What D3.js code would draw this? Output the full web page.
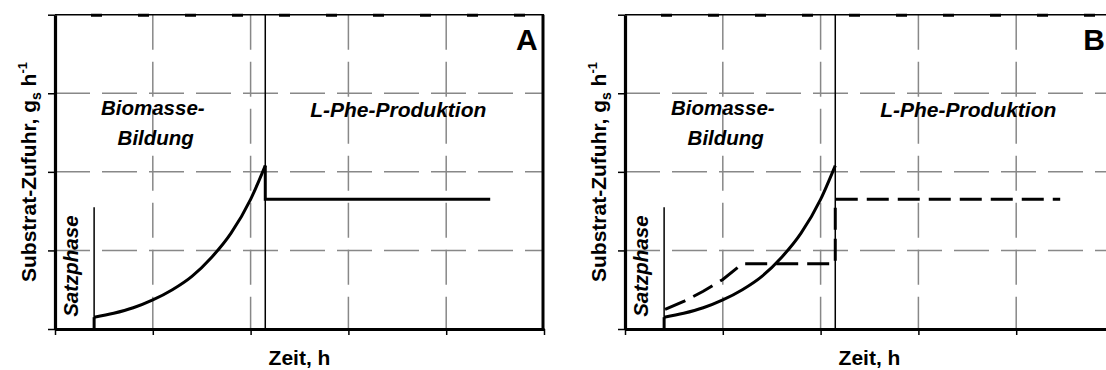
<!DOCTYPE html>
<html>
<head>
<meta charset="utf-8">
<script src="https://cdn.jsdelivr.net/npm/d3@7"></script>
<style>
  html, body { margin: 0; padding: 0; background: #fff; }
  svg { display: block; }
  text { font-family: "Liberation Sans", Arial, Helvetica, sans-serif; font-weight: bold; fill: #000; }
</style>
</head>
<body>
<svg id="chart" width="1106" height="370"></svg>
<script>
// Axis ticks (unitless, schematic axes)
const xTicks = [0, 1, 2, 3, 4, 5];
const yTicks = [0, 1, 2, 3, 4];

// Phase boundaries on the time axis
const batchEnd = 0.4;        // end of the batch phase (Satzphase)
const batchLabelTop = 1.55;  // height of the batch-phase marker line
const switchTime = 2.15;     // switch from biomass growth to L-Phe production

// Exponential feed during biomass growth (time, feed rate)
const growthTime = [0.40, 0.60, 0.80, 1.00, 1.20, 1.40, 1.60, 1.80, 2.00, 2.15];
const growthFeed = [0.15, 0.20, 0.27, 0.37, 0.50, 0.67, 0.91, 1.22, 1.65, 2.08];

// Constant feed during production
const productionFeed = 1.65;
const productionEnd = 4.45;

// Panel B: alternative (dashed) feed profile
const altTime = [0.41, 0.60, 0.80, 1.00, 1.20, 2.15, 2.15, 4.45];
const altFeed = [0.25, 0.35, 0.48, 0.63, 0.83, 0.83, 1.65, 1.65];

const svg = d3.select("#chart");
const svgW = +svg.attr("width");

const panels = [
  { key: "A", left: 55, tail: true, alt: false },
  { key: "B", left: 625, tail: false, alt: true }
];

const plotW = 489, plotTop = 14.7, plotBottom = 329;

panels.forEach(p => {
  const x = d3.scaleLinear().domain([0, 5]).range([p.left, p.left + plotW]);
  const y = d3.scaleLinear().domain([0, 4]).range([plotBottom, plotTop]);
  const g = svg.append("g");

  // dashed grey grid
  const dash = "35,12";
  g.selectAll("line.hgrid").data(yTicks.filter(v => v > 0 && v < 4)).join("line")
    .attr("x1", x(0)).attr("x2", x(5)).attr("y1", d => y(d)).attr("y2", d => y(d))
    .attr("stroke", "#888").attr("stroke-width", 1.5).attr("stroke-dasharray", dash);
  g.selectAll("line.vgrid").data(xTicks.filter(v => v > 0 && v < 5)).join("line")
    .attr("y1", y(4)).attr("y2", y(0)).attr("x1", d => x(d)).attr("x2", d => x(d))
    .attr("stroke", "#888").attr("stroke-width", 1.5).attr("stroke-dasharray", dash);

  // top frame: thin line with darker segments in the grid gaps
  g.append("line").attr("x1", x(0)).attr("x2", x(5)).attr("y1", y(4)).attr("y2", y(4))
    .attr("stroke", "#000").attr("stroke-width", 1.5);
  g.append("line").attr("x1", x(0)).attr("x2", x(5)).attr("y1", y(4) + 0.5).attr("y2", y(4) + 0.5)
    .attr("stroke", "#000").attr("stroke-width", 3)
    .attr("stroke-dasharray", "11,36").attr("stroke-dashoffset", 11);

  // right frame
  g.append("line").attr("x1", x(5) - 1).attr("x2", x(5) - 1).attr("y1", y(4)).attr("y2", y(0))
    .attr("stroke", "#000").attr("stroke-width", 3);

  // axes
  const yAxis = g.append("g").attr("transform", `translate(${x(0)},0)`)
    .call(d3.axisLeft(y).tickValues(yTicks).tickFormat("").tickSize(7).tickSizeOuter(0));
  const xAxis = g.append("g").attr("transform", `translate(0,${y(0)})`)
    .call(d3.axisBottom(x).tickValues(xTicks).tickFormat("").tickSize(6).tickSizeOuter(0));
  [yAxis, xAxis].forEach(a => {
    a.select(".domain").attr("stroke", "#000").attr("stroke-width", 3.2);
    a.selectAll(".tick line").attr("stroke", "#000").attr("stroke-width", 1.5);
  });

  // phase boundaries
  g.append("line").attr("x1", x(batchEnd)).attr("x2", x(batchEnd))
    .attr("y1", y(0)).attr("y2", y(batchLabelTop)).attr("stroke", "#000").attr("stroke-width", 1.5);
  g.append("line").attr("x1", x(switchTime)).attr("x2", x(switchTime))
    .attr("y1", y(0)).attr("y2", y(4)).attr("stroke", "#000").attr("stroke-width", 1.5);

  // feed profiles
  const lin = d3.line().x(d => x(d[0])).y(d => y(d[1]));
  const smooth = d3.line().x(d => x(d[0])).y(d => y(d[1])).curve(d3.curveMonotoneX);
  const growth = growthTime.map((t, i) => [t, growthFeed[i]]);

  g.append("path").attr("d", lin([[growthTime[0], 0], growth[0]]))
    .attr("fill", "none").attr("stroke", "#000").attr("stroke-width", 3);
  g.append("path").attr("d", smooth(growth))
    .attr("fill", "none").attr("stroke", "#000").attr("stroke-width", 3);
  if (p.tail) {
    const last = growth[growth.length - 1];
    g.append("path")
      .attr("d", lin([last, [switchTime, productionFeed], [productionEnd, productionFeed]]))
      .attr("fill", "none").attr("stroke", "#000").attr("stroke-width", 3)
      .attr("stroke-linejoin", "miter");
  }
  if (p.alt) {
    g.append("path").attr("d", lin(altTime.map((t, i) => [t, altFeed[i]])))
      .attr("fill", "none").attr("stroke", "#000").attr("stroke-width", 3)
      .attr("stroke-dasharray", "22,9");
  }

  // phase labels
  const bio = g.append("text").attr("text-anchor", "middle").attr("font-style", "italic")
    .attr("font-size", 20.5);
  bio.append("tspan").attr("x", x(1.0)).attr("y", 115).text("Biomasse-");
  bio.append("tspan").attr("x", x(1.03)).attr("y", 145).text("Bildung");

  g.append("text").attr("x", x(3.51)).attr("y", 117).attr("text-anchor", "middle")
    .attr("font-style", "italic").attr("font-size", 21).text("L-Phe-Produktion");

  g.append("text").attr("transform", `translate(${x(0) + 23},${y(0.8)}) rotate(-90)`)
    .attr("text-anchor", "middle").attr("font-style", "italic").attr("font-size", 20.5)
    .text("Satzphase");

  // panel letter, kept inside the drawing area
  const letter = g.append("text").attr("y", 50).attr("font-size", 30).text(p.key);
  const lw = letter.node().getComputedTextLength();
  letter.attr("x", Math.min(x(5) - 28, svgW - lw - 1));

  // axis titles
  g.append("text").attr("x", (x(0) + x(5)) / 2).attr("y", 365).attr("text-anchor", "middle")
    .attr("font-size", 21).text("Zeit, h");

  const yt = g.append("text").attr("transform", `translate(${x(0) - 19},172) rotate(-90)`)
    .attr("text-anchor", "middle").attr("font-size", 21);
  yt.append("tspan").text("Substrat-Zufuhr, g");
  yt.append("tspan").attr("font-size", 14).attr("dy", 5).text("s");
  yt.append("tspan").attr("dy", -5).text(" h");
  yt.append("tspan").attr("font-size", 13).attr("dy", -9).text("-1");
});
</script>
</body>
</html>
